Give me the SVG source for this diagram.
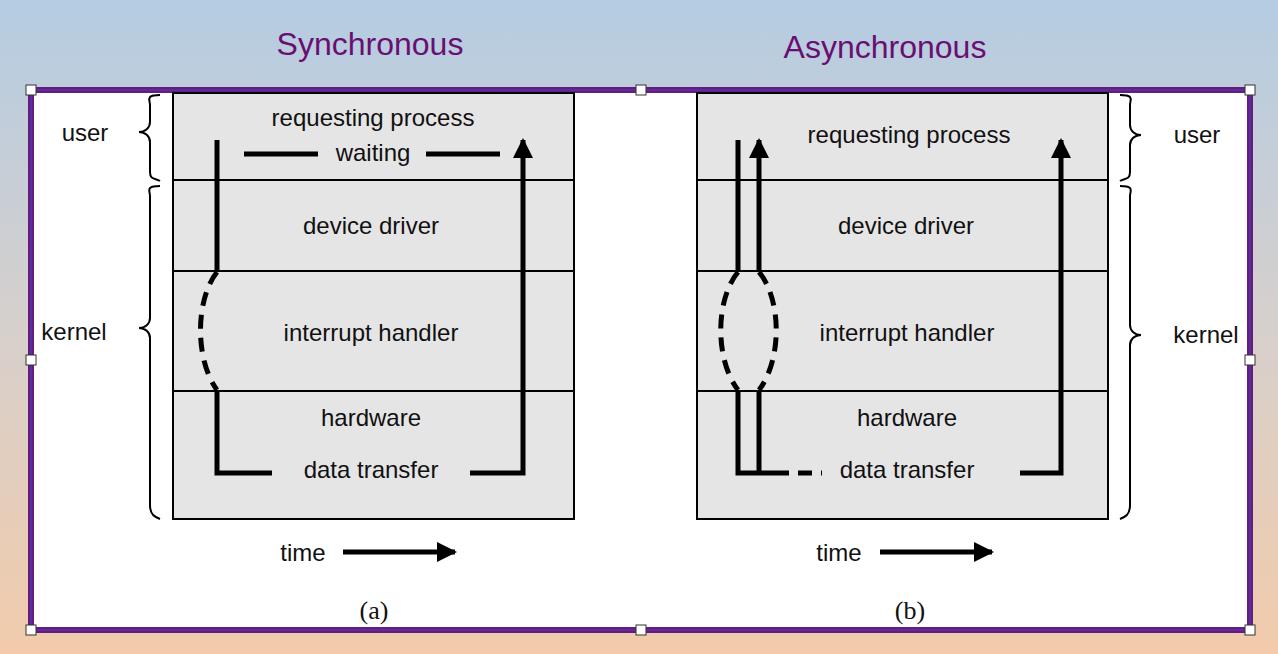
<svg xmlns="http://www.w3.org/2000/svg" width="1278" height="654" viewBox="0 0 1278 654">
<defs>
<linearGradient id="bg" x1="0" y1="0" x2="0" y2="1"><stop offset="0" stop-color="#b5cce2"/><stop offset="0.5" stop-color="#d6d0cc"/><stop offset="1" stop-color="#f2cbab"/></linearGradient>
<marker id="ah" viewBox="0 0 10 10" refX="9" refY="5" markerWidth="4" markerHeight="4" orient="auto"><path d="M0,0L10,5L0,10z" fill="#000"/></marker>
<style>
.t{font-family:"Liberation Sans",Arial,sans-serif;font-size:24px;fill:#111}
.h{font-family:"Liberation Sans",Arial,sans-serif;font-size:32px;fill:#6a0f72}
.s{font-family:"Liberation Serif",serif;font-size:26px;fill:#111}
.box{fill:#e6e5e6;stroke:#000;stroke-width:2}
.ln{stroke:#000;stroke-width:2}
.p{fill:none;stroke:#000;stroke-width:5}
.d{fill:none;stroke:#000;stroke-width:5;stroke-dasharray:14 9}
.br{fill:none;stroke:#000;stroke-width:2}
.hd{fill:#fff;stroke:#333;stroke-width:1}
</style>
</defs>
<rect width="1278" height="654" fill="url(#bg)"/>
<text class="h" x="370" y="55" text-anchor="middle">Synchronous</text>
<text class="h" x="885" y="58" text-anchor="middle">Asynchronous</text>
<rect x="31" y="90" width="1219" height="540" fill="#fff" stroke="#6a1a7a" stroke-width="6"/>
<rect x="31" y="90" width="1219" height="540" fill="none" stroke="#4a3ab0" stroke-width="1.5"/>
<g id="a">
<rect class="box" x="173" y="93" width="401" height="426"/>
<line class="ln" x1="173" y1="180" x2="574" y2="180"/>
<line class="ln" x1="173" y1="271" x2="574" y2="271"/>
<line class="ln" x1="173" y1="391" x2="574" y2="391"/>
<text class="t" x="373" y="126" text-anchor="middle">requesting process</text>
<text class="t" x="373" y="161" text-anchor="middle">waiting</text>
<text class="t" x="371" y="234" text-anchor="middle">device driver</text>
<text class="t" x="371" y="341" text-anchor="middle">interrupt handler</text>
<text class="t" x="371" y="426" text-anchor="middle">hardware</text>
<text class="t" x="371" y="478" text-anchor="middle">data transfer</text>
<path class="p" d="M217,140V270"/>
<path class="d" d="M217,272C195,300 195,360 217,390"/>
<path class="p" d="M217,390V473H272"/>
<path class="p" d="M470,473H523V140" marker-end="url(#ah)"/>
<path class="p" d="M244,154H318M426,154H500"/>
<path class="br" d="M160,95C145,95 150,100 150,105V122C150,128 145,132 139,132C145,132 150,136 150,142V172C150,180 155,178 160,181"/>
<path class="br" d="M160,186C145,186 150,191 150,196V318C150,324 145,328 139,328C145,328 150,332 150,338V505C150,515 155,517 160,519"/>
<text class="t" x="85" y="141" text-anchor="middle">user</text>
<text class="t" x="74" y="340" text-anchor="middle">kernel</text>
<text class="t" x="303" y="561" text-anchor="middle">time</text>
<path class="p" d="M343,552H455" marker-end="url(#ah)"/>
<text class="s" x="374" y="619" text-anchor="middle">(a)</text>
</g>
<g id="b">
<rect class="box" x="697" y="93" width="411" height="426"/>
<line class="ln" x1="697" y1="180" x2="1108" y2="180"/>
<line class="ln" x1="697" y1="271" x2="1108" y2="271"/>
<line class="ln" x1="697" y1="391" x2="1108" y2="391"/>
<text class="t" x="909" y="143" text-anchor="middle">requesting process</text>
<text class="t" x="906" y="234" text-anchor="middle">device driver</text>
<text class="t" x="907" y="341" text-anchor="middle">interrupt handler</text>
<text class="t" x="907" y="426" text-anchor="middle">hardware</text>
<text class="t" x="907" y="478" text-anchor="middle">data transfer</text>
<path class="p" d="M738,140V270"/>
<path class="p" d="M759,270V140" marker-end="url(#ah)"/>
<path class="d" d="M738,272C715,300 715,360 738,390M759,272C782,300 782,360 759,390"/>
<path class="p" d="M738,390V473H775M759,390V473"/>
<path class="d" d="M775,473H822"/>
<path class="p" d="M1020,473H1061V140" marker-end="url(#ah)"/>
<path class="br" d="M1120,95C1135,95 1130,100 1130,105V125C1130,131 1135,135 1141,135C1135,135 1130,139 1130,145V172C1130,180 1125,178 1120,181"/>
<path class="br" d="M1120,186C1135,186 1130,191 1130,196V325C1130,331 1135,335 1141,335C1135,335 1130,339 1130,345V505C1130,515 1125,517 1120,519"/>
<text class="t" x="1197" y="143" text-anchor="middle">user</text>
<text class="t" x="1206" y="343" text-anchor="middle">kernel</text>
<text class="t" x="839" y="561" text-anchor="middle">time</text>
<path class="p" d="M880,552H992" marker-end="url(#ah)"/>
<text class="s" x="910" y="619" text-anchor="middle">(b)</text>
</g>
<g id="handles">
<rect class="hd" x="26" y="85" width="10" height="10"/><rect class="hd" x="636" y="85" width="10" height="10"/><rect class="hd" x="1245" y="85" width="10" height="10"/>
<rect class="hd" x="26" y="355" width="10" height="10"/><rect class="hd" x="1245" y="355" width="10" height="10"/>
<rect class="hd" x="26" y="625" width="10" height="10"/><rect class="hd" x="636" y="625" width="10" height="10"/><rect class="hd" x="1245" y="625" width="10" height="10"/>
</g>
</svg>
